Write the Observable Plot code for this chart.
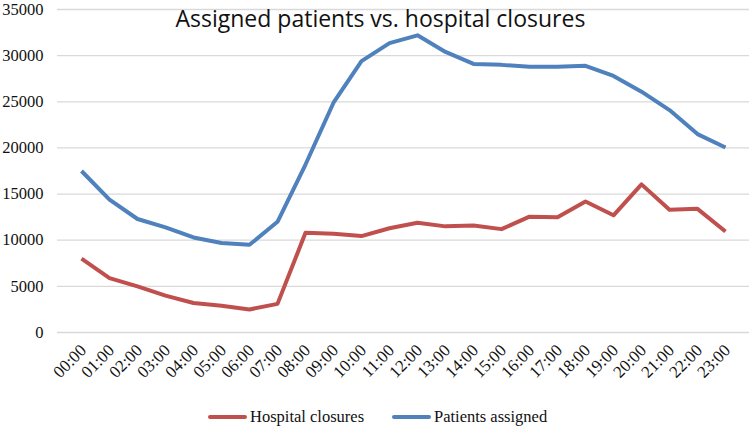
<!DOCTYPE html>
<html>
<head>
<meta charset="utf-8">
<script src="https://cdn.jsdelivr.net/npm/d3@7"></script>
<script src="https://cdn.jsdelivr.net/npm/@observablehq/plot@0.6"></script>
<style>
  html, body { margin: 0; padding: 0; background: #fff; }
  #chart { position: relative; width: 749px; height: 427px; }
  .legend { position: absolute; top: 406px; left: 0; width: 749px; height: 22px;
            font-family: "Liberation Serif", "Times New Roman", serif; font-size: 16.5px; color: #111; }
  .legend .item { position: absolute; top: 0; display: flex; align-items: center; height: 22px; }
  .legend .sw { width: 39px; height: 4px; margin-right: 3px; border-radius: 2px; }
</style>
</head>
<body>
<div id="chart"></div>
<script>
const hours = ["00:00","01:00","02:00","03:00","04:00","05:00","06:00","07:00","08:00","09:00","10:00","11:00","12:00","13:00","14:00","15:00","16:00","17:00","18:00","19:00","20:00","21:00","22:00","23:00"];
const patientsAssigned = [17500,14400,12300,11400,10300,9700,9500,12000,18200,24900,29400,31350,32200,30400,29100,29000,28800,28800,28900,27800,26100,24100,21500,20050];
const hospitalClosures = [8000,5900,5000,4000,3200,2900,2500,3100,10800,10700,10450,11300,11900,11500,11600,11200,12550,12500,14200,12700,16050,13300,13400,10950];
const seriesNames = ["Hospital closures", "Patients assigned"];
const seriesColors = ["#C0504D", "#4F81BD"];
const yTicks = [0,5000,10000,15000,20000,25000,30000,35000];
const title = "Assigned patients vs. hospital closures";

const rows = [];
hours.forEach((h, i) => {
  rows.push({hour: h, value: hospitalClosures[i], series: seriesNames[0]});
  rows.push({hour: h, value: patientsAssigned[i], series: seriesNames[1]});
});

const plot = Plot.plot({
  width: 749,
  height: 400,
  marginTop: 9,
  marginBottom: 68,
  marginLeft: 57,
  marginRight: 0,
  style: {fontFamily: "'Liberation Serif', 'Times New Roman', serif", fontSize: "17px", color: "#111", background: "#fff"},
  x: {type: "point", domain: hours, padding: 0.5, label: null},
  y: {domain: [0, 35000], ticks: yTicks, label: null},
  color: {domain: seriesNames, range: seriesColors},
  marks: [
    Plot.gridY(yTicks, {stroke: "#D9D9D9", strokeOpacity: 1, strokeWidth: 1.3}),
    Plot.axisY(yTicks, {tickSize: 0, tickPadding: 14, fontSize: 16.5, tickFormat: d => String(d)}),
    Plot.axisX({tickSize: 0, tickPadding: 0, dy: 15, dx: 2, tickRotate: -45, lineAnchor: "middle", textAnchor: "end", fontSize: 17}),
    Plot.line(rows, {x: "hour", y: "value", z: "series", stroke: "series", strokeWidth: 4, strokeLinejoin: "round", strokeLinecap: "butt"}),
    Plot.text([title], {frameAnchor: "top-left", text: d => d, dx: 118, dy: 1, fontSize: 23,
      fontFamily: "'Open Sans', sans-serif", fill: "#111", textAnchor: "start", lineAnchor: "top"})
  ]
});

const chart = document.getElementById("chart");
chart.appendChild(plot);

const legend = document.createElement("div");
legend.className = "legend";
const lefts = [208, 392];
seriesNames.forEach((name, i) => {
  const item = document.createElement("div");
  item.className = "item";
  item.style.left = lefts[i] + "px";
  const sw = document.createElement("span");
  sw.className = "sw";
  sw.style.background = seriesColors[i];
  const t = document.createElement("span");
  t.textContent = name;
  item.appendChild(sw);
  item.appendChild(t);
  legend.appendChild(item);
});
chart.appendChild(legend);
</script>
</body>
</html>
